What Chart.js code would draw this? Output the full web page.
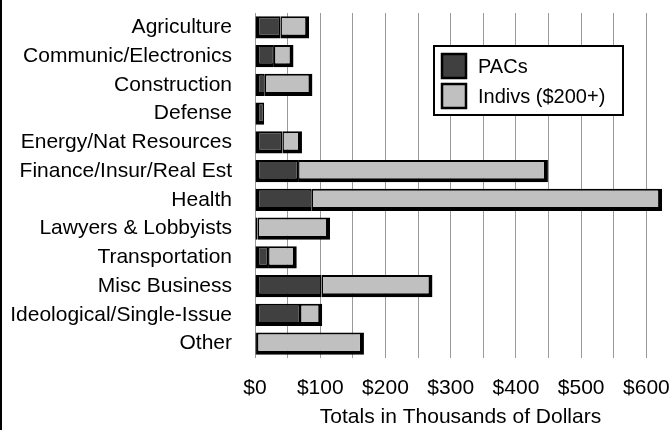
<!DOCTYPE html>
<html>
<head>
<meta charset="utf-8">
<script src="https://cdn.jsdelivr.net/npm/chart.js@4/dist/chart.umd.min.js"></script>
<style>
    html, body { margin: 0; padding: 0; background: #fff; }
    #wrap { width: 671px; height: 430px; }
</style>
</head>
<body>
<div id="wrap"><canvas id="industryChart"></canvas></div>
<script>
// Contributions by industry, thousands of dollars
const categories = [
    'Agriculture', 'Communic/Electronics', 'Construction', 'Defense',
    'Energy/Nat Resources', 'Finance/Insur/Real Est', 'Health',
    'Lawyers & Lobbyists', 'Transportation', 'Misc Business',
    'Ideological/Single-Issue', 'Other'
];
const pacs   = [39, 29, 15, 14, 42, 66, 87, 4, 20, 102, 69, 3];
const indivs = [44, 30, 73, 0, 30, 383, 537, 111, 44, 170, 34, 164];

const tickValues = [0, 50, 100, 150, 200, 250, 300, 350, 400, 450, 500, 550, 600];
const axisMax = 630;
const axisTitle = 'Totals in Thousands of Dollars';

const FONT = "'Liberation Sans', Arial, sans-serif";

// legend box drawn inside the plot, plus the black rule down the left edge
const boxLegend = {
    id: 'boxLegend',
    afterDatasetsDraw(chart) {
        const ctx = chart.ctx;
        const x = 434, y = 46, w = 189, h = 69;
        ctx.save();
        ctx.fillStyle = '#fff';
        ctx.fillRect(x, y, w, h);
        ctx.lineWidth = 2;
        ctx.strokeStyle = '#000';
        ctx.strokeRect(x, y, w, h);

        ctx.font = '20px ' + FONT;
        ctx.textBaseline = 'middle';
        chart.data.datasets.forEach((ds, i) => {
            const sy = y + 8 + i * 30;
            ctx.fillStyle = ds.backgroundColor;
            ctx.fillRect(x + 8, sy, 24, 24);
            ctx.lineWidth = 2.5;
            ctx.strokeRect(x + 8, sy, 24, 24);
            ctx.fillStyle = '#000';
            ctx.fillText(ds.label, x + 44, sy + 13);
        });

        ctx.fillStyle = '#000';
        ctx.fillRect(0, 0, 2, chart.height);
        ctx.restore();
    }
};

new Chart(document.getElementById('industryChart'), {
    type: 'bar',
    data: {
        labels: categories,
        datasets: [{
            label: 'PACs',
            data: pacs,
            backgroundColor: '#404040',
            borderColor: '#000',
            borderWidth: { left: 4, top: 2, bottom: 4, right: 1.5 },
            borderSkipped: false
        }, {
            label: 'Indivs ($200+)',
            data: indivs,
            backgroundColor: '#c0c0c0',
            borderColor: '#000',
            borderWidth: { left: 1.5, top: 2, bottom: 4, right: 4 },
            borderSkipped: false
        }]
    },
    options: {
        indexAxis: 'y',
        responsive: true,
        maintainAspectRatio: false,
        animation: false,
        layout: {
            padding: { top: 13, right: 5, left: 0, bottom: 0 }
        },
        plugins: {
            legend: { display: false },
            tooltip: { enabled: false }
        },
        datasets: {
            bar: {
                categoryPercentage: 0.78,
                barPercentage: 1
            }
        },
        scales: {
            x: {
                stacked: true,
                min: 0,
                max: axisMax,
                afterBuildTicks: function(scale) {
                    scale.ticks = tickValues.map(v => ({ value: v }));
                },
                afterFit: function(scale) {
                    scale.height = 72;
                    scale.paddingLeft = 0;
                    scale.paddingRight = 0;
                },
                ticks: {
                    autoSkip: false,
                    maxRotation: 0,
                    padding: 18,
                    color: '#000',
                    font: { family: FONT, size: 21 },
                    callback: function(value) {
                        return value % 100 === 0 ? '$' + value : '';
                    }
                },
                grid: {
                    color: '#9a9a9a',
                    lineWidth: 1,
                    drawTicks: false
                },
                border: { display: false },
                title: {
                    display: true,
                    text: axisTitle,
                    color: '#000',
                    font: { family: FONT, size: 21 },
                    padding: { top: 2, bottom: 0 }
                }
            },
            y: {
                stacked: true,
                afterFit: function(scale) {
                    scale.width = 255;
                    scale.paddingTop = 0;
                    scale.paddingBottom = 0;
                },
                ticks: {
                    autoSkip: false,
                    padding: 23,
                    color: '#000',
                    font: { family: FONT, size: 21 }
                },
                grid: { display: false, drawTicks: false },
                border: { display: false }
            }
        }
    },
    plugins: [boxLegend]
});
</script>
</body>
</html>
